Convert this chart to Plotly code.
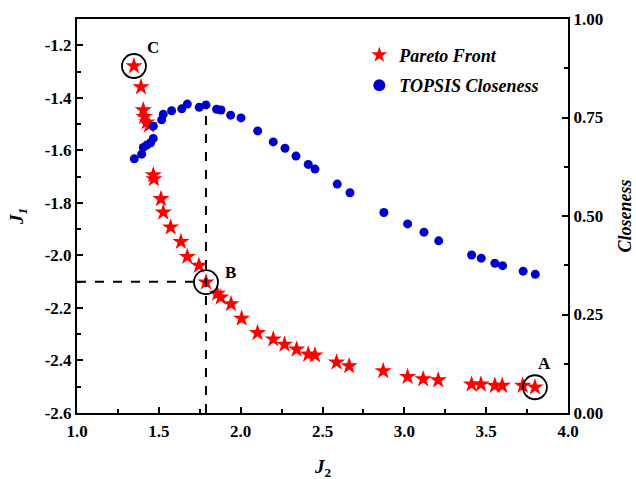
import plotly.graph_objects as go

# Pareto front (J2, J1)
pareto_j2 = [1.348, 1.391, 1.405, 1.411, 1.426, 1.440, 1.466, 1.470, 1.513, 1.527,
             1.572, 1.635, 1.674, 1.745, 1.788, 1.857, 1.878, 1.941, 2.006, 2.103,
             2.199, 2.268, 2.342, 2.413, 2.454, 2.586, 2.663, 2.871, 3.020, 3.115,
             3.207, 3.411, 3.468, 3.553, 3.598, 3.723, 3.798]
pareto_j1 = [-1.279, -1.359, -1.447, -1.472, -1.493, -1.505, -1.694, -1.709, -1.785, -1.836,
             -1.893, -1.948, -2.005, -2.039, -2.102, -2.145, -2.160, -2.185, -2.240, -2.295,
             -2.319, -2.339, -2.358, -2.377, -2.380, -2.407, -2.421, -2.440, -2.462, -2.471,
             -2.475, -2.491, -2.491, -2.496, -2.496, -2.496, -2.502]

# TOPSIS closeness (J2, closeness)
topsis_j2 = [1.350, 1.395, 1.405, 1.426, 1.450, 1.466, 1.466, 1.517, 1.527, 1.578,
             1.640, 1.674, 1.747, 1.788, 1.853, 1.880, 1.939, 2.002, 2.104, 2.199,
             2.271, 2.338, 2.413, 2.454, 2.590, 2.668, 2.875, 3.020, 3.120, 3.210,
             3.411, 3.470, 3.553, 3.600, 3.726, 3.800]
topsis_c = [0.645, 0.657, 0.674, 0.680, 0.686, 0.697, 0.728, 0.744, 0.758, 0.767,
            0.772, 0.784, 0.776, 0.782, 0.771, 0.769, 0.756, 0.749, 0.716, 0.688,
            0.672, 0.652, 0.631, 0.619, 0.581, 0.559, 0.509, 0.480, 0.459, 0.437,
            0.401, 0.393, 0.380, 0.374, 0.360, 0.352]

# Highlighted points
pt_labels = ["C", "B", "A"]
pt_j2 = [1.348, 1.788, 3.798]
pt_j1 = [-1.279, -2.102, -2.502]
best_j2 = 1.788
best_j1 = -2.100
best_c = 0.782

# Tick labels
x_ticks = [1.0, 1.5, 2.0, 2.5, 3.0, 3.5, 4.0]
x_ticklabels = ["1.0", "1.5", "2.0", "2.5", "3.0", "3.5", "4.0"]
y_ticks = [-2.6, -2.4, -2.2, -2.0, -1.8, -1.6, -1.4, -1.2]
y_ticklabels = ["-2.6", "-2.4", "-2.2", "-2.0", "-1.8", "-1.6", "-1.4", "-1.2"]
y2_ticks = [0.0, 0.25, 0.5, 0.75, 1.0]
y2_ticklabels = ["0.00", "0.25", "0.50", "0.75", "1.00"]

FONT = "Liberation Serif"

fig = go.Figure()
fig.add_trace(go.Scatter(
    x=pareto_j2, y=pareto_j1, mode="markers", name="<b><i>Pareto Front</i></b>",
    legendgroup="p",
    marker=dict(symbol="star", size=13, color="#FF0000", line=dict(width=0)),
    xaxis="x", yaxis="y"))
fig.add_trace(go.Scatter(
    x=topsis_j2, y=topsis_c, mode="markers", name="<b><i>TOPSIS Closeness</i></b>",
    legendgroup="t",
    marker=dict(symbol="circle", size=9, color="#0000CC", line=dict(width=0)),
    xaxis="x", yaxis="y2"))

shapes = []
shapes.append(dict(type="line", xref="x", yref="y2", x0=best_j2, x1=best_j2, y0=0, y1=best_c,
                   line=dict(color="black", width=2, dash="dash")))
shapes.append(dict(type="line", xref="x", yref="y", x0=1.0, x1=best_j2, y0=best_j1, y1=best_j1,
                   line=dict(color="black", width=2, dash="dash")))
for xv, yv in zip(pt_j2, pt_j1):
    shapes.append(dict(type="circle", xref="x", yref="y", xsizemode="pixel", ysizemode="pixel",
                       xanchor=xv, yanchor=yv, x0=-12, x1=12, y0=-12, y1=12,
                       line=dict(color="black", width=1.8)))

annotations = []
offsets = {"C": (19, -19), "B": (25, -10), "A": (10, -24)}
for lab, xv, yv in zip(pt_labels, pt_j2, pt_j1):
    dx, dy = offsets[lab]
    annotations.append(dict(x=xv, y=yv, xref="x", yref="y", text="<b>%s</b>" % lab,
                            showarrow=False, xshift=dx, yshift=-dy,
                            font=dict(family=FONT, size=17, color="black")))
# x-axis title
annotations.append(dict(x=0.5, y=0, xref="paper", yref="paper", text="<b><i>J</i><sub>2</sub></b>",
                        showarrow=False, yanchor="top", yshift=-41,
                        font=dict(family=FONT, size=19, color="black")))

axis_common = dict(showline=True, linecolor="black", linewidth=2, ticks="inside",
                   tickcolor="black", tickwidth=1.5, ticklen=6, showgrid=False, zeroline=False,
                   tickmode="array", automargin=False,
                   tickfont=dict(family=FONT, size=17, color="black", weight="bold"))

fig.update_layout(
    width=636, height=479,
    margin=dict(l=77, r=68, t=19, b=66),
    paper_bgcolor="white", plot_bgcolor="white",
    shapes=shapes, annotations=annotations,
    showlegend=True,
    legend=dict(x=0.575, y=0.955, xanchor="left", yanchor="top", bgcolor="rgba(0,0,0,0)",
                font=dict(family=FONT, size=18, color="black"), itemsizing="constant",
                traceorder="grouped", tracegroupgap=4),
    xaxis=dict(range=[1.0, 4.0], tickvals=x_ticks, ticktext=x_ticklabels, mirror=True,
               ticklabelstandoff=2,
               minor=dict(ticks="inside", tickmode="linear", tick0=1.0, dtick=0.25, ticklen=4,
                          tickcolor="black", tickwidth=1.5),
               **axis_common),
    yaxis=dict(range=[-2.6, -1.1], tickvals=y_ticks, ticktext=y_ticklabels,
               minor=dict(ticks="inside", tickmode="linear", tick0=-2.6, dtick=0.1, ticklen=4,
                          tickcolor="black", tickwidth=1.5),
               title=dict(text="<b><i>J</i><sub><i>1</i></sub></b>", font=dict(family=FONT, size=19, color="black"),
                          standoff=16),
               **axis_common),
    yaxis2=dict(range=[0, 1.0], tickvals=y2_ticks, ticktext=y2_ticklabels, overlaying="y", side="right",
                minor=dict(ticks="inside", tickmode="linear", tick0=0, dtick=0.125, ticklen=4,
                           tickcolor="black", tickwidth=1.5),
                title=dict(text="<b><i>Closeness</i></b>", font=dict(family=FONT, size=18, color="black"),
                           standoff=16),
                **axis_common),
)

fig.write_html("out.html")
